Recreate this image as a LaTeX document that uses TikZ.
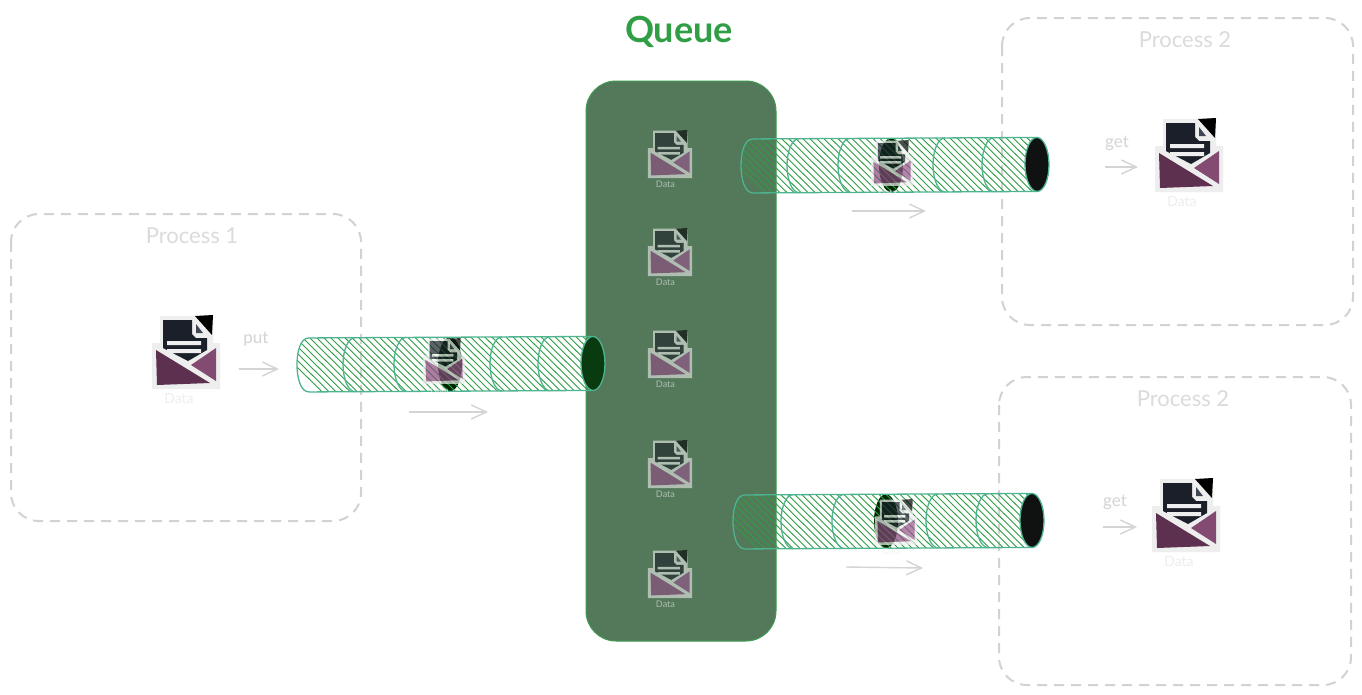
\documentclass[tikz,border=0pt]{standalone}
\usepackage{fontspec}
\setmainfont{Lato}
\usetikzlibrary{arrows.meta}
\definecolor{queuegreen}{HTML}{53785A}
\definecolor{queueedge}{HTML}{3F9B52}
\definecolor{titlegreen}{HTML}{2F9E44}
\definecolor{pipeedge}{HTML}{4DB391}
\definecolor{hatchgreen}{HTML}{2F9E44}
\definecolor{faint}{HTML}{D4D4D4}
\definecolor{boxdash}{HTML}{D2D2D2}
\definecolor{paperdark}{HTML}{1B1F2A}
\definecolor{foldgray}{HTML}{3F4754}
\definecolor{flapdark}{HTML}{5C304E}
\definecolor{flaplight}{HTML}{834A72}
\definecolor{flappale}{HTML}{A8569C}
\definecolor{frame}{HTML}{EEEEEE}
\definecolor{farendgreen}{HTML}{0A3A10}
\definecolor{farendblack}{HTML}{101211}
\tikzset{
	processbox/.style={draw=boxdash, line width=2pt, dash pattern=on 10pt off 7pt, rounded corners=28pt},
	processlabel/.style={text=faint!85!white, font=\fontsize{22}{22}\selectfont},
	flowlabel/.style={text=faint, font=\fontsize{17}{17}\selectfont},
	flowarrow/.style={draw=faint, line width=1.4pt, -{Straight Barb[length=15pt,width=14pt]}},
	pipeline/.style={draw=pipeedge, line width=1.3pt},
	pics/envelope/.style 2 args={code={
		\begin{scope}[transparency group, opacity=#1]
		\fill[frame] (-26,-36) -- (9,-36) -- (27,-37) -- (27,-9) -- (34,-9) -- (34,37) -- (-34,37) -- (-34,-9) -- (-26,-9) -- cycle;
		\fill[paperdark] (-23,-32) -- (6,-32) -- (6,-18) -- (10,-14) -- (21,-14) -- (21,-2) -- (2,9) -- (-23,-4) -- cycle;
		\fill[black] (9,-36) -- (27,-37) -- (26,-17) -- cycle;
		\fill[foldgray] (10,-28) -- (17,-19) -- (10,-19) -- cycle;
		\fill[frame] (-19,-11) rectangle (15,-7);
		\fill[frame] (-19,-3) rectangle (15,1);
		\fill[flapdark!#2!flappale] (-30,-2) -- (24,31) -- (-29,33) -- cycle;
		\fill[flaplight!#2!flappale] (5,13) -- (30,-4) -- (30,29) -- cycle;
		\node (-data) [text=frame, font=\fontsize{14}{14}\selectfont] at (-7,47) {Data};
		\end{scope}
	}}
}
% one pipe: end colour, left end, length, mid height, rib places, dark ring
\newcommand{\drawpipe}[6]{
	\begin{scope}[shift={(#2,#4)}, rotate=0.3]
	\fill[black!85!green] (#6,0) ellipse [x radius=12pt, y radius=27pt];
	\begin{scope}
	\clip (12,-27) .. controls (3,-27) and (0,-12) .. (0,0) .. controls (0,12) and (3,27) .. (12,27) -- (#3-12,27) -- (#3-12,-27) -- cycle;
	\foreach \x in {-30,-23,...,#3}
		\draw[hatchgreen, line width=0.9pt] (\x,-28) -- (\x+56,28);
	\end{scope}
	\draw[pipeline] (12,-27) .. controls (3,-27) and (0,-12) .. (0,0) .. controls (0,12) and (3,27) .. (12,27) -- (#3-12,27);
	\draw[pipeline] (12,-27) -- (#3-12,-27);
	\foreach \x in {#5}
		\draw[pipeline] (\x,-27) arc [start angle=90, end angle=270, x radius=12pt, y radius=27pt];
	\draw[pipeline, fill=#1] (#3-12,0) ellipse [x radius=12pt, y radius=27pt];
	\end{scope}
}
\begin{document}
\begin{tikzpicture}[x=1pt,y=-1pt]
\useasboundingbox (0,0) rectangle (1362,694);
\fill[white] (0,0) rectangle (1362,694);

\draw[processbox] (11,214) rectangle (361,521);
\draw[processbox] (1002,18) rectangle (1353,325);
\draw[processbox] (999,377) rectangle (1351,685);
\node (title1) [processlabel] at (192,236) {Process 1};
\node (title2) [processlabel] at (1185,40) {Process 2};
\node (title3) [processlabel] at (1183,399) {Process 2};

\draw[draw=queueedge, fill=queuegreen, line width=1pt, rounded corners=30pt] (586,81) rectangle (776,641);
\node (queuetitle) [text=titlegreen, font=\fontsize{36}{36}\bfseries\selectfont] at (679,32) {Queue};

\foreach \i/\y in {1/154,2/252,3/354,4/464,5/574}
	\pic (stored\i) at (670,\y) [scale=0.65, transform shape] {envelope={0.6}{25}};

\drawpipe{farendgreen}{297}{308}{365}{58,109,205,253}{153}
\drawpipe{farendblack}{741}{308}{166}{58,109,204,253}{150}
\drawpipe{farendblack}{733}{311}{522}{60,111,205,255}{153}

\pic (moving1) at (444,361) [scale=0.62, transform shape] {envelope={0.7}{40}};
\pic (moving2) at (892,163) [scale=0.62, transform shape] {envelope={0.7}{40}};
\pic (moving3) at (896,522) [scale=0.62, transform shape] {envelope={0.7}{40}};

\pic (sender) at (186,352) {envelope={1}{100}};
\pic (reader1) at (1189,155) {envelope={1}{100}};
\pic (reader2) at (1186,515) {envelope={1}{100}};

\node (put) [flowlabel] at (256,339) {put};
\node (get1) [flowlabel] at (1117,143) {get};
\node (get2) [flowlabel] at (1115,502) {get};

\coordinate (putA) at (239,369);
\coordinate (putB) at (279,369);
\coordinate (flow1A) at (409,412);
\coordinate (flow1B) at (488,412);
\coordinate (flow2A) at (852,211);
\coordinate (flow2B) at (926,211);
\coordinate (flow3A) at (846,567);
\coordinate (flow3B) at (923,568);
\coordinate (get1A) at (1105,167);
\coordinate (get1B) at (1138,167);
\coordinate (get2A) at (1103,527);
\coordinate (get2B) at (1137,527);
\foreach \a/\b in {putA/putB,flow1A/flow1B,flow2A/flow2B,flow3A/flow3B,get1A/get1B,get2A/get2B}
	\draw[flowarrow] (\a) -- (\b);
\end{tikzpicture}
\end{document}
